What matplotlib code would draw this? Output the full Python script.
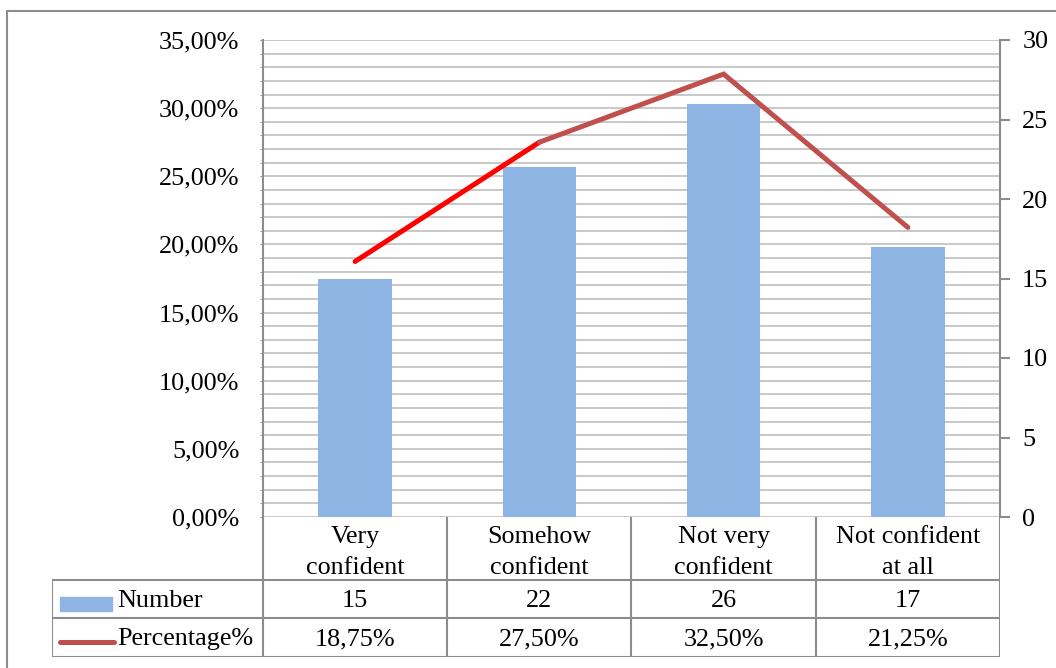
import matplotlib
matplotlib.use("Agg")
import matplotlib.pyplot as plt
from matplotlib.ticker import MultipleLocator, FuncFormatter
from matplotlib.patches import Rectangle

categories = ["Very\nconfident", "Somehow\nconfident", "Not very\nconfident", "Not confident\nat all"]
number = [15, 22, 26, 17]
percentage = [18.75, 27.50, 32.50, 21.25]
series_names = ["Number", "Percentage%"]

BAR = "#8EB4E3"
LINE = "#C0504D"
FIRST = "#FF0000"
EDGE = "#8C8C8C"
GRID = "#BFBFBF"

plt.rcParams['font.family'] = ['Liberation Serif', 'DejaVu Serif']
plt.rcParams['font.size'] = 18.8

W, H = 1056, 668
fig = plt.figure(figsize=(W / 100, H / 100), dpi=100)

def px(x0, y0, x1, y1) :
	# pixel box (top-left origin) -> figure fraction rect
	return [x0 / W, 1 - y1 / H, (x1 - x0) / W, (y1 - y0) / H]

# outer frame
fig.add_artist(Rectangle((7 / W, -0.1), 1.2, 1 - 11 / H + 0.1, transform=fig.transFigure,
	fill=False, edgecolor=EDGE, linewidth=1.5))

PL, PT, PR, PB = 263, 40, 1000, 517
xs = list(range(len(categories)))

# percentage axis (left) with gridlines
ax = fig.add_axes(px(PL, PT, PR, PB))
ax.set_xlim(-0.5, len(categories) - 0.5)
ax.set_ylim(0, 35)
ax.yaxis.set_major_locator(MultipleLocator(5))
ax.yaxis.set_minor_locator(MultipleLocator(1))
ax.yaxis.set_major_formatter(FuncFormatter(lambda v, p : "{0:.2f}%".format(v).replace('.', ',')))
ax.grid(True, which='both', axis='y', color=GRID, linewidth=1.2)
ax.set_axisbelow(True)
ax.set_xticks([])
ax.tick_params(axis='y', which='both', length=2, color=EDGE, pad=15)
for s in ['top', 'right', 'bottom'] :
	ax.spines[s].set_visible(False)
ax.spines['left'].set_color(EDGE)
ax.spines['left'].set_linewidth(1.5)

# number axis (right) with bars
ax2 = ax.twinx()
ax2.set_ylim(0, 30)
ax2.yaxis.set_major_locator(MultipleLocator(5))
ax2.bar(xs, number, width=0.4, color=BAR, zorder=2)
ax2.tick_params(axis='y', length=7, width=1.5, color=EDGE, pad=9)
for s in ['top', 'left', 'bottom'] :
	ax2.spines[s].set_visible(False)
ax2.spines['right'].set_color(EDGE)
ax2.spines['right'].set_linewidth(1.5)

# percentage line on top
ax3 = fig.add_axes(px(PL, PT, PR, PB), sharex=ax, sharey=ax)
ax3.axis('off')
ax3.plot(xs[1:], percentage[1:], color=LINE, linewidth=3.6, solid_capstyle='round', solid_joinstyle='miter')
ax3.plot(xs[:2], percentage[:2], color=FIRST, linewidth=3.6, solid_capstyle='round', zorder=1)

# data table under the plot
TL, TB = 52, 657
tab = fig.add_axes(px(TL, PB, PR, TB))
colw = (PR - PL) / len(categories)
lx = -0.5 - (PL - TL) / colw
tab.set_xlim(lx, len(categories) - 0.5)
tab.set_ylim(TB - PB, 0)
tab.axis('off')
rows = [0, 63, 101, 140]
kw = dict(color=EDGE, linewidth=1.5, solid_capstyle='projecting')
for y in rows[1:] :
	tab.plot([lx, len(categories) - 0.5], [y, y], **kw)
tab.plot([lx, lx], [rows[1], rows[3]], **kw)
for i in range(len(categories) + 1) :
	tab.plot([i - 0.5, i - 0.5], [0, rows[3]], **kw)

for i, c in enumerate(categories) :
	tab.text(i, (rows[0] + rows[1]) / 2 + 4, c, ha='center', va='center', linespacing=1.5)
	tab.text(i, (rows[1] + rows[2]) / 2 + 2, str(number[i]), ha='center', va='center')
	tab.text(i, (rows[2] + rows[3]) / 2 + 2, "{0:.2f}%".format(percentage[i]).replace('.', ','),
		ha='center', va='center')

# legend keys in the first column
kx0 = lx + 8 / colw
kx1 = lx + 60 / colw
tab.add_patch(Rectangle((kx0, 80), kx1 - kx0, 14, color=BAR))
tab.plot([kx0, kx1 + 2 / colw], [125, 125], color=LINE, linewidth=3.6, solid_capstyle='round')
tab.text(lx + 65 / colw, (rows[1] + rows[2]) / 2 + 2, series_names[0], ha='left', va='center')
tab.text(lx + 65 / colw, (rows[2] + rows[3]) / 2 + 2, series_names[1], ha='left', va='center')

fig.savefig("out.png", dpi=100)
